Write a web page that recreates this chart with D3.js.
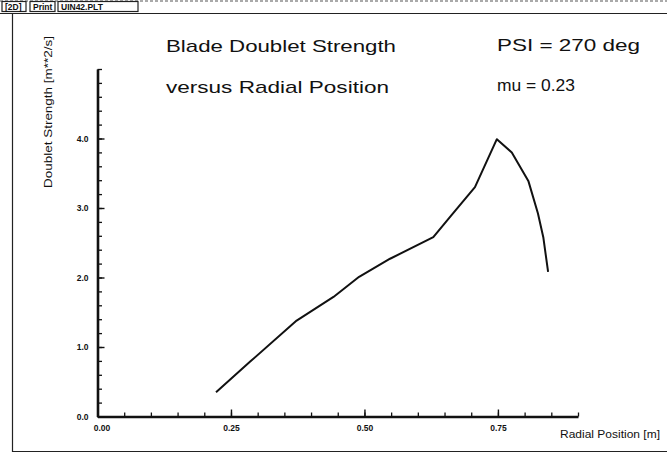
<!DOCTYPE html>
<html><head><meta charset="utf-8">
<script src="https://cdn.jsdelivr.net/npm/d3@7"></script>
<style>body{margin:0;background:#fff}svg{display:block}text{font-family:"Liberation Sans",Arial,sans-serif;fill:#111}</style>
</head><body>
<svg id="c" width="667" height="455"></svg>
<script>
const radialPos = [0.222,0.286,0.373,0.442,0.490,0.548,0.629,0.660,0.707,0.748,0.776,0.807,0.825,0.835,0.844];
const doublet   = [0.35,0.79,1.38,1.72,2.01,2.27,2.58,2.87,3.30,3.99,3.80,3.39,2.92,2.58,2.08];
const xTicks = [0,0.25,0.5,0.75];
const xTickLabels = ["0.00","0.25","0.50","0.75"];
const yTicks = [0,1,2,3,4];
const yTickLabels = ["0.0","1.0","2.0","3.0","4.0"];
const titleLines = ["Blade Doublet Strength","versus Radial Position"];
const infoLines = ["PSI = 270 deg","mu = 0.23"];
const buttons = ["[2D]","Print","UIN42.PLT"];

const svg = d3.select("#c");
// window chrome
svg.append("line").attr("x1",0).attr("x2",667).attr("y1",13.5).attr("y2",13.5).attr("stroke","#222").attr("stroke-width",1);
svg.append("line").attr("x1",0).attr("x2",667).attr("y1",1).attr("y2",1).attr("stroke","#555").attr("stroke-width",1).attr("stroke-dasharray","3,2");
svg.append("line").attr("x1",12.5).attr("x2",12.5).attr("y1",14).attr("y2",452).attr("stroke","#222").attr("stroke-width",1.2);
svg.append("line").attr("x1",12).attr("x2",667).attr("y1",451.5).attr("y2",451.5).attr("stroke","#222").attr("stroke-width",1.2);
const bx = [2,30,58], bw=[24,25,80];
buttons.forEach((b,i)=>{
  svg.append("rect").attr("x",bx[i]).attr("y",1.5).attr("width",bw[i]).attr("height",10).attr("fill","none").attr("stroke","#222").attr("stroke-width",1.2);
  svg.append("text").attr("x",bx[i]+3).attr("y",10).attr("font-size",8.5).attr("font-weight","bold").text(b);
});

const x = d3.scaleLinear().domain([0,0.9]).range([97.5,578]);
const y = d3.scaleLinear().domain([0,5]).range([416.5,69]);

// minor ticks
const xMinor = d3.range(0,0.9001,0.05).map(v=>+v.toFixed(2));
const yMinor = d3.range(0,5.0001,0.2).map(v=>+v.toFixed(2));
svg.append("g").attr("transform",`translate(0,${y(0)})`)
  .call(d3.axisBottom(x).tickValues(xMinor).tickSizeInner(-4).tickSizeOuter(0).tickFormat(""))
  .call(g=>g.select(".domain").remove()).selectAll("line").attr("stroke","#111").attr("stroke-width",1.3);
svg.append("g").attr("transform",`translate(${x(0)},0)`)
  .call(d3.axisLeft(y).tickValues(yMinor).tickSizeInner(-4.5).tickSizeOuter(0).tickFormat(""))
  .call(g=>g.select(".domain").remove()).selectAll("line").attr("stroke","#111").attr("stroke-width",1.3);

// major axes
const xa = svg.append("g").attr("transform",`translate(0,${y(0)})`)
  .call(d3.axisBottom(x).tickValues(xTicks).tickSizeInner(-7).tickSizeOuter(0).tickPadding(8).tickFormat((d,i)=>xTickLabels[i]));
xa.select(".domain").attr("stroke","#111").attr("stroke-width",2.6);
xa.selectAll("line").attr("stroke","#111").attr("stroke-width",1.4);
xa.selectAll("text").attr("font-size",8.5).attr("font-weight","bold").attr("fill","#111").attr("font-family","Liberation Sans, Arial")
  .attr("dx",(d,i)=>i===0?4:0);
const ya = svg.append("g").attr("transform",`translate(${x(0)},0)`)
  .call(d3.axisLeft(y).tickValues(yTicks).tickSizeInner(-7).tickSizeOuter(0).tickPadding(9).tickFormat((d,i)=>yTickLabels[i]));
ya.select(".domain").attr("stroke","#111").attr("stroke-width",2.6);
ya.selectAll("line").attr("stroke","#111").attr("stroke-width",1.4);
ya.selectAll("text").attr("font-size",8.5).attr("font-weight","bold").attr("fill","#111").attr("font-family","Liberation Sans, Arial");

// curve
const pts = radialPos.map((r,i)=>[r,doublet[i]]);
svg.append("path").datum(pts)
  .attr("d",d3.line().x(d=>x(d[0])).y(d=>y(d[1])))
  .attr("fill","none").attr("stroke","#111").attr("stroke-width",2).attr("stroke-linejoin","round");

// titles
svg.append("text").attr("x",166).attr("y",52).attr("font-size",17).attr("textLength",230).attr("lengthAdjust","spacingAndGlyphs").text(titleLines[0]);
svg.append("text").attr("x",166).attr("y",93).attr("font-size",17).attr("textLength",223).attr("lengthAdjust","spacingAndGlyphs").text(titleLines[1]);
svg.append("text").attr("x",497).attr("y",51).attr("font-size",17).attr("textLength",143).attr("lengthAdjust","spacingAndGlyphs").text(infoLines[0]);
svg.append("text").attr("x",497).attr("y",91).attr("font-size",17).attr("textLength",78).attr("lengthAdjust","spacingAndGlyphs").text(infoLines[1]);

// axis labels
svg.append("text").attr("transform","translate(52,112) rotate(-90)").attr("text-anchor","middle")
  .attr("font-size",10).attr("textLength",152).attr("lengthAdjust","spacingAndGlyphs").text("Doublet Strength [m**2/s]");
svg.append("text").attr("x",560).attr("y",438).attr("font-size",10).attr("textLength",100).attr("lengthAdjust","spacingAndGlyphs").text("Radial Position [m]");
</script>
</body></html>
